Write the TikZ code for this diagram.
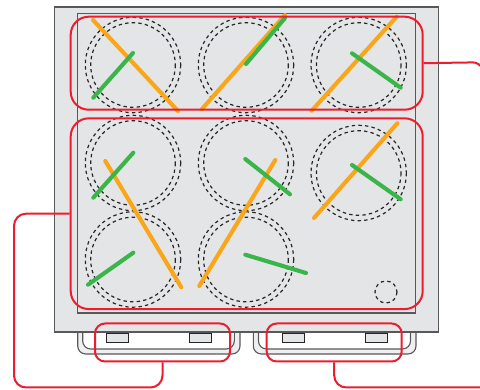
\documentclass[tikz,border=0pt]{standalone}
\definecolor{panel}{HTML}{E4E5E7}
\definecolor{edge}{HTML}{58585A}
\definecolor{redline}{HTML}{ED1C2E}
\definecolor{orangeline}{HTML}{FAA61A}
\definecolor{greenline}{HTML}{39B54A}
\tikzset{
  panelbox/.style={draw=edge,fill=panel,line width=1.2pt},
  smallbox/.style={draw=black!85,fill=panel,line width=1pt},
  burner/.style={draw=black!85,line width=1.2pt,dash pattern=on 3.4pt off 3.2pt},
  redbox/.style={draw=redline,line width=2pt,rounded corners=18pt},
  redtab/.style={draw=redline,line width=2pt,rounded corners=10pt},
  redlink/.style={draw=redline,line width=2pt,rounded corners=12pt},
  orangebar/.style={draw=orangeline,line width=4.1pt,line cap=round},
  greenbar/.style={draw=greenline,line width=4.1pt,line cap=round},
  handleline/.style={draw=edge,line width=1.1pt,rounded corners=8pt},
}
\newcommand{\burnerpair}[2]{%
  \draw[burner] (#1,#2) circle[radius=47.7];
  \draw[burner] (#1,#2) circle[radius=42.3];
}
\begin{document}
\begin{tikzpicture}[x=1pt,y=-1pt]
\useasboundingbox (0,0) rectangle (480,390);
% handles (their tops run behind the body)
\draw[handleline,fill=panel!60] (77.7,320) -- (77.7,354) -- (240,354) -- (240,320) -- cycle;
\draw[handleline,fill=white] (82.7,320) -- (82.7,349) -- (234.3,349) -- (234.3,320) -- cycle;
\draw[handleline,fill=panel!60] (253.3,320) -- (253.3,354) -- (416,354) -- (416,320) -- cycle;
\draw[handleline,fill=white] (258.5,320) -- (258.5,349) -- (410.5,349) -- (410.5,320) -- cycle;
% body
\draw[panelbox] (54.5,7) rectangle (438.5,332);
\draw[panelbox] (77.5,13.5) rectangle (415.7,313);
\node[smallbox,inner sep=0pt,minimum width=21.6pt,minimum height=9pt] (k1) at (117.5,337.8) {};
\node[smallbox,inner sep=0pt,minimum width=21.6pt,minimum height=9pt] (k2) at (200.2,337.8) {};
\node[smallbox,inner sep=0pt,minimum width=21.6pt,minimum height=9pt] (k3) at (293.5,337.8) {};
\node[smallbox,inner sep=0pt,minimum width=21.6pt,minimum height=9pt] (k4) at (376.2,337.8) {};
% burners
\burnerpair{133}{65}
\burnerpair{246}{65}
\burnerpair{358.7}{65}
\burnerpair{133}{163}
\burnerpair{246}{163}
\burnerpair{358.7}{173}
\burnerpair{133}{259.5}
\burnerpair{246}{259.5}
\draw[burner] (386,292) circle[radius=11];
% bars
\draw[orangebar] (93,20) -- (178,111);
\draw[greenbar] (93.3,97.7) -- (133,53);
\draw[orangebar] (202,109) -- (285,15);
\draw[greenbar] (246,64) -- (285,18);
\draw[orangebar] (311.7,110.7) -- (396.7,16.7);
\draw[greenbar] (352,53.3) -- (400.7,87.7);
\draw[orangebar] (105.3,161) -- (181.3,287.3);
\draw[greenbar] (93.3,197.7) -- (133.3,152.7);
\draw[orangebar] (199.3,286) -- (275.3,160);
\draw[greenbar] (245.3,159) -- (290,194.3);
\draw[orangebar] (314,218) -- (397.3,123.3);
\draw[greenbar] (352,165) -- (400.7,199.3);
\draw[greenbar] (88,284.7) -- (133.3,252.7);
\draw[greenbar] (245.3,254.7) -- (306,273);
% red groups
\node[redbox,inner sep=0pt,minimum width=352pt,minimum height=93pt] (top) at (246.7,63.2) {};
\node[redbox,inner sep=0pt,minimum width=352pt,minimum height=190.7pt] (mid) at (246.7,213.7) {};
\node[redtab,inner sep=0pt,minimum width=135pt,minimum height=38pt] (tabl) at (162.5,342.5) {};
\node[redtab,inner sep=0pt,minimum width=135pt,minimum height=38pt] (tabr) at (334.2,342.5) {};
\coordinate (endtop) at (482,68);
\coordinate (endbot) at (480,387.5);
\draw[redlink,rounded corners=7pt] (top.east) -- (480,62.3) -- (endtop);
\draw[redlink] (mid.west) -- (14,213.7) -- (14,387.5) -- (tabl.south |- 0,387.5) -- (tabl.south);
\draw[redlink] (tabr.south) -- (tabr.south |- endbot) -- (endbot);
\end{tikzpicture}
\end{document}
